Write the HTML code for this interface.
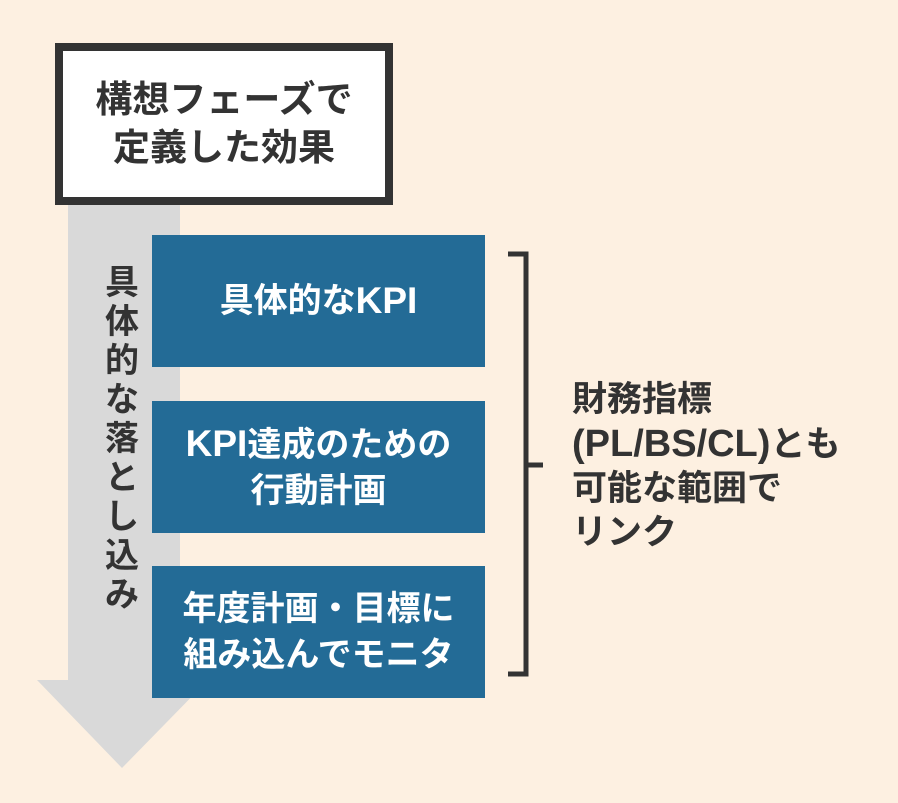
<!DOCTYPE html>
<html><head><meta charset="utf-8"><style>
body{margin:0;width:898px;height:803px;background:#fdf0e1;position:relative;overflow:hidden;font-family:"Liberation Sans","Noto Sans CJK JP",sans-serif;font-weight:bold}
.top{position:absolute;left:55px;top:43px;width:322px;height:146px;border:8px solid #333;background:#fff;color:#333;font-size:37px;line-height:48px;text-align:center;display:flex;align-items:center;justify-content:center}
.b{position:absolute;left:152px;width:333px;height:132px;background:#236b96;color:#fff;font-size:34px;line-height:46px;text-align:center;display:flex;align-items:center;justify-content:center}
.v{position:absolute;left:100px;top:264px;width:44px;font-size:34px;line-height:39px;color:#333;text-align:center}
.r{position:absolute;left:572px;top:378px;font-size:35px;line-height:44px;color:#333;white-space:nowrap}
.r span{font-size:38px}
</style></head><body>
<svg width="898" height="803" style="position:absolute;left:0;top:0">
<polygon points="68,200 180,200 180,680 208,680 122,768 37,680 68,680" fill="#d9d9d9"/>
<path d="M508,254 H526 V674 H508 M526,465 H543" fill="none" stroke="#333" stroke-width="5"/>
</svg>
<div class="top">構想フェーズで<br>定義した効果</div>
<div class="v">具<br>体<br>的<br>な<br>落<br>と<br>し<br>込<br>み</div>
<div class="b" style="top:235px">具体的な<span style="font-size:37px">KPI</span></div>
<div class="b" style="top:401px"><span><span style="font-size:37px">KPI</span>達成のための<br>行動計画</span></div>
<div class="b" style="top:566px">年度計画・目標に<br>組み込んでモニタ</div>
<div class="r">財務指標<br><span>(PL/BS/CL)</span>とも<br>可能な範囲で<br>リンク</div>
</body></html>
